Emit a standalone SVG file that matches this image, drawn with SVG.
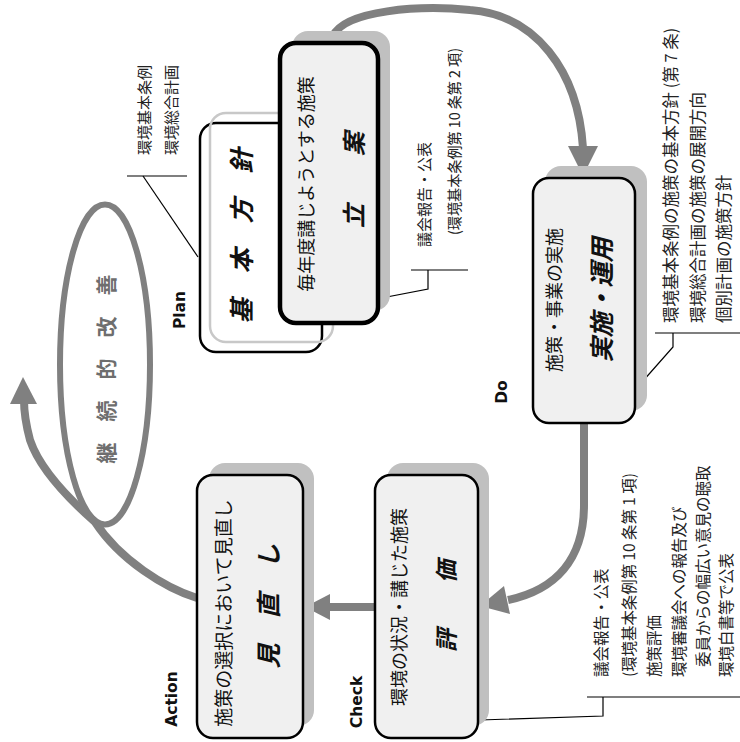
<svg xmlns="http://www.w3.org/2000/svg" width="740" height="742" viewBox="0 0 740 742">
<style>
text{font-family:"Noto Sans CJK JP","Noto Sans",sans-serif;dominant-baseline:central;fill:#111}
.box{fill:#f0f0f0;stroke:#000;stroke-width:2.5}
.thick{stroke-width:4.5}
.shadow{fill:#c0c0c0;stroke:none}
.body{font-size:18px;text-anchor:middle}
.title{font-size:25px;font-weight:bold;font-style:italic;text-anchor:middle}
.note{font-size:15.5px;text-anchor:start;fill:#222}
.lbl{font-family:"DejaVu Sans",sans-serif;font-size:15.5px;font-weight:bold;text-anchor:middle}
.arrow{fill:none;stroke:#808080;stroke-width:8}
.head{fill:#808080}
.lead{fill:none;stroke:#000;stroke-width:1.2}
</style>

<g id="connectors">
<path class="arrow" d="M333,36 C345,10 420,5 470,10 C535,15 578,70 583,148"/>
<polygon class="head" points="568,146 598,146 583,176"/>
<path class="arrow" d="M584,423 L584,505 C584,560 555,590 508,600"/>
<polygon class="head" points="480,606 510,614 504,586"/>
<path class="arrow" d="M376,607 L326,607"/>
<polygon class="head" points="305,607 330,594 330,620"/>
<ellipse cx="105" cy="364.5" rx="45" ry="160" fill="none" stroke="#808080" stroke-width="6"/>
<path class="arrow" d="M197,598 C165,588 120,560 95,522 C70,500 40,470 30,440 C26,425 24,412 24,400"/>
<polygon class="head" points="23,377 10,404 37,404"/>
<polyline class="lead" points="127,176 187,176"/>
<polyline class="lead" points="143,176 198,257"/>
<polyline class="lead" points="411,270 468,270"/>
<polyline class="lead" points="428,270 428,289 366,301"/>
<polyline class="lead" points="655,333 740,333"/>
<polyline class="lead" points="673,333 673,347 635,390"/>
<polyline class="lead" points="587,697 740,697"/>
<polyline class="lead" points="603,697 603,716 480,720"/>
</g>

<g id="kaizen">
<text transform="translate(105,369) rotate(-90)" style="font-size:21px;font-weight:bold;text-anchor:middle;fill:#6e6e6e">継　続　的　改　善</text>
</g>

<g id="plan-kihon">
<rect x="200" y="123" width="122" height="229" rx="16" fill="#fff" stroke="#000" stroke-width="2.5"/>
<rect x="210" y="113" width="123" height="229" rx="16" fill="none" stroke="#c8c8c8" stroke-width="2.5"/>
<text class="title" transform="translate(240,236) rotate(-90)">基　本　方　針</text>
<text class="lbl" transform="translate(180,310) rotate(-90)">Plan</text>
<text class="note" transform="translate(143,155) rotate(-90)" style="font-size:15px">環境基本条例</text>
<text class="note" transform="translate(170,155) rotate(-90)" style="font-size:15px">環境総合計画</text>
</g>

<g id="plan-ritsuan">
<rect class="shadow" x="292" y="31" width="98" height="280" rx="16"/>
<rect class="box thick" x="280" y="43" width="98" height="280" rx="16"/>
<text class="body" transform="translate(305,184) rotate(-90)">毎年度講じようとする施策</text>
<text class="title" transform="translate(352,180) rotate(-90)" style="font-size:24px">立　　案</text>
<text class="note" transform="translate(423,247) rotate(-90)" style="font-size:15px">議会報告・公表</text>
<text class="note" transform="translate(453,235) rotate(-90)" style="font-size:15px" textLength="187" lengthAdjust="spacingAndGlyphs">(環境基本条例第 10 条第 2 項)</text>
</g>

<g id="do">
<rect class="shadow" x="545" y="166" width="102" height="245" rx="16"/>
<rect class="box" x="533" y="178" width="102" height="245" rx="16"/>
<text class="body" transform="translate(553,300) rotate(-90)">施策・事業の実施</text>
<text class="title" transform="translate(600,300) rotate(-90)">実施・運用</text>
<text class="lbl" transform="translate(502,392) rotate(-90)">Do</text>
<text class="note" transform="translate(670,323) rotate(-90)" style="font-size:16.5px">環境基本条例の施策の基本方針 (第 7 条)</text>
<text class="note" transform="translate(697,323) rotate(-90)" style="font-size:16.5px">環境総合計画の施策の展開方向</text>
<text class="note" transform="translate(723,323) rotate(-90)" style="font-size:16.5px">個別計画の施策方針</text>
</g>

<g id="check">
<rect class="shadow" x="387" y="463" width="102" height="263" rx="16"/>
<rect class="box" x="375" y="475" width="103" height="263" rx="16"/>
<text class="body" transform="translate(398,607) rotate(-90)">環境の状況・講じた施策</text>
<text class="title" transform="translate(445,606) rotate(-90)" style="font-size:23px">評　　価</text>
<text class="lbl" transform="translate(357,702) rotate(-90)">Check</text>
<text class="note" transform="translate(600,677) rotate(-90)">議会報告・公表</text>
<text class="note" transform="translate(628,677) rotate(-90)" textLength="204" lengthAdjust="spacingAndGlyphs">(環境基本条例第 10 条第 1 項)</text>
<text class="note" transform="translate(653,677) rotate(-90)">施策評価</text>
<text class="note" transform="translate(678,677) rotate(-90)">環境審議会への報告及び</text>
<text class="note" transform="translate(702,667) rotate(-90)">委員からの幅広い意見の聴取</text>
<text class="note" transform="translate(725,677) rotate(-90)">環境白書等で公表</text>
</g>

<g id="action">
<rect class="shadow" x="209" y="463" width="105" height="263" rx="16"/>
<rect class="box" x="197" y="475" width="106" height="263" rx="16"/>
<text class="body" transform="translate(222,613) rotate(-90)" style="font-size:19px">施策の選択において見直し</text>
<text class="title" transform="translate(267,606) rotate(-90)">見　直　し</text>
<text class="lbl" transform="translate(172,699) rotate(-90)">Action</text>
</g>
</svg>
